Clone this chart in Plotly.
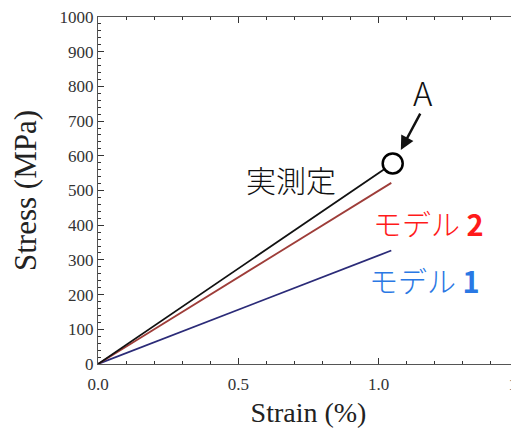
import plotly.graph_objects as go

# Data
strain_measured = [0.0, 1.05]
stress_measured = [0, 578]
strain_model2 = [0.0, 1.045]
stress_model2 = [0, 522]
strain_model1 = [0.0, 1.045]
stress_model1 = [0, 327]

x_tickvals = [0.0, 0.5, 1.0, 1.5]
x_ticktext = ["0.0", "0.5", "1.0", "1.5"]
y_tickvals = [0, 100, 200, 300, 400, 500, 600, 700, 800, 900, 1000]

label_measured = "実測定"
label_model2 = "モデル <b>2</b>"
label_model1 = "モデル <b>1</b>"
label_point = "A"

SERIF = "Liberation Serif"
SANS = "Noto Sans CJK JP"

fig = go.Figure()
fig.add_trace(go.Scatter(x=strain_model1, y=stress_model1, mode="lines",
                         line=dict(color="#2b2b78", width=1.8), showlegend=False))
fig.add_trace(go.Scatter(x=strain_model2, y=stress_model2, mode="lines",
                         line=dict(color="#9e3d39", width=1.8), showlegend=False))
fig.add_trace(go.Scatter(x=strain_measured, y=stress_measured, mode="lines",
                         line=dict(color="#111111", width=1.8), showlegend=False))
fig.add_trace(go.Scatter(x=[strain_measured[-1]], y=[stress_measured[-1]], mode="markers",
                         marker=dict(symbol="circle", size=20, color="white",
                                     line=dict(color="black", width=2.5)),
                         showlegend=False, cliponaxis=False))

fig.add_annotation(x=0.688, y=533, text=label_measured, showarrow=False,
                   font=dict(family=SANS, size=30, color="#111111", weight=300))
fig.add_annotation(x=1.176, y=406, text=label_model2, showarrow=False,
                   font=dict(family=SANS, size=29, color="#ff1a1a", weight=300))
fig.add_annotation(x=1.165, y=242, text=label_model1, showarrow=False,
                   font=dict(family=SANS, size=29, color="#2a78e4", weight=300))
fig.add_annotation(x=1.158, y=784, text=label_point, showarrow=False,
                   font=dict(family=SANS, size=33, color="#111111", weight=300))
fig.add_annotation(x=1.079, y=617, ax=1.151, ay=726, axref="x", ayref="y",
                   text="", showarrow=True, arrowhead=2, arrowsize=1.1,
                   arrowwidth=2.5, arrowcolor="#111111")

axis_common = dict(
    showgrid=False, zeroline=False, showline=True, linecolor="#555555", linewidth=1.2,
    mirror="ticks", ticks="inside", tickcolor="#333333", ticklen=6, tickwidth=1.2,
    tickfont=dict(family=SERIF, size=17, color="#333333"), automargin=False,
    ticklabeloverflow="allow",
)

fig.update_xaxes(**axis_common, range=[0, 1.5], tickvals=x_tickvals, ticktext=x_ticktext,
                 ticklabelstandoff=4,
                 minor=dict(dtick=0.1, ticks="inside", ticklen=3, tickcolor="#333333"),
                 title=dict(text="Strain (%)", standoff=20,
                            font=dict(family=SERIF, size=28, color="#222222")))
fig.update_yaxes(**axis_common, range=[0, 1000], tickvals=y_tickvals,
                 minor=dict(dtick=20, ticks="inside", ticklen=3, tickcolor="#333333"),
                 title=dict(text="Stress (MPa)", standoff=24,
                            font=dict(family=SERIF, size=31, color="#222222")))

# The page body adds an 8px offset; size the figure so the plot area lands where the reference has it
fig.update_layout(width=511, height=420, margin=dict(l=90, r=0, t=9, b=64),
                  plot_bgcolor="white", paper_bgcolor="white")

fig.write_html("out.html")
